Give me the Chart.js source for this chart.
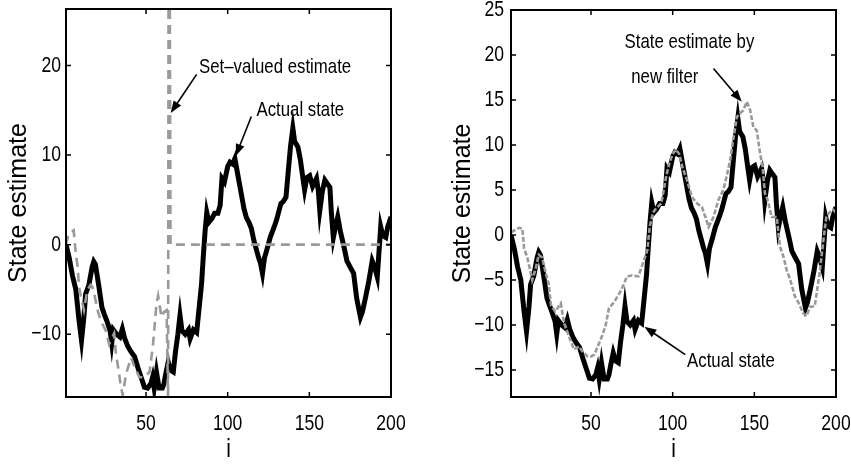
<!DOCTYPE html>
<html><head><meta charset="utf-8">
<script src="https://cdn.jsdelivr.net/npm/chart.js@4"></script>
<style>
html,body{margin:0;padding:0;background:#fff;}
#wrap{position:relative;width:851px;height:464px;overflow:hidden;background:#fff;}
canvas{position:absolute;top:0;}
</style></head><body>
<div id="wrap">
<canvas id="c1" width="430" height="464" style="left:0px"></canvas>
<canvas id="c2" width="421" height="464" style="left:430px"></canvas>
</div>
<script>
// ---- data ----
const actualI = [1,3,5,7,9,10.5,12,13,15,17,
  18,19,21,23,24.5,26,28,29,30,32,
  34,35.5,37,39,41,43,45,47,49,51,
  53,54,55,56.4,58,60,61,62,63.6,65,
  66.7,68,69.5,70.8,72,74,76,77,79,81,
  82,84,85,86.2,87.2,88.5,90.3,92,94,95.4,
  96.5,98,100,101.4,103,104.4,105.5,107,108.5,110,
  111.5,113,114.5,116,117.5,119,120,121.3,122.5,124.4,
  126,128.5,130,132.6,134,135.7,137,138.5,139.9,141,
  143,144.5,146,147.1,148.5,150.2,152,154.4,155.5,156.4,
  158,159.5,161,162.6,163.5,164.7,166,167.4,169,170,
  171.5,173,175,177.1,179,181.3,182.5,184.4,186.5,188.5,
  190,191.6,193.7,195,196.8,198,200];
const actualV = [0,-1.5,-3.5,-5,-8.5,-10.7,-8,-5.5,-4.5,-2.5,
  -1.9,-2.2,-4.5,-7,-7.8,-8.5,-9.6,-11,-9.5,-10,
  -10.3,-9.4,-10.5,-11.4,-12,-12.5,-13.7,-14.8,-15.9,-16,
  -15.5,-14.8,-16,-14.2,-16,-16,-15.5,-14.5,-13.1,-14,
  -14.2,-12,-10,-7.9,-9.6,-10,-9.5,-10.5,-9.5,-9.8,
  -8,-4.4,-1.5,1.6,3.6,2.5,2.9,3.5,3.5,4.4,
  7.4,7,8.7,9.2,9,9.6,8.5,7,5.5,4,
  3,2.5,1.8,0.5,-0.5,-1.5,-2,-3.2,-1.5,-0.3,
  0.8,2,2.8,4.6,4.8,5.3,8,11,13,11.5,
  10.9,9.5,7.5,6.1,7.5,7.7,6.5,7.4,6,3.8,
  6,7.2,6.8,6.4,3.5,0.8,2,3.1,1.5,0.7,
  -0.5,-1.8,-2.5,-3.2,-6,-8.1,-7.5,-5.9,-4,-1.8,
  -2.5,-3.6,2,1,0.8,2,3.1];

const setI = [1,2.6,5.7,7,8,9,10,12,14,16,
  17.1,18.1,20.2,22.3,25.4,27.4,30.5,31.6,32.6,34.7,
  35.7,37.8,40.9,43,46,49.1,52.2,54.3,56.4,57.4,
  59.5,61,62.6,63.5,64,65,200];
const setV = [0,1.2,1.6,-1,-2.3,-4.7,-5.7,-7.3,-5.1,-4.5,
  -4.7,-5.3,-7.2,-8.5,-9.6,-11.1,-9.9,-12.2,-13.3,-15.9,
  -16.8,-14.4,-12.6,-13.7,-14.8,-14.8,-14.2,-11.1,-6.6,-5.7,
  -8.1,-7.5,-7.3,-17.5,60,0,0];

const filtI = [1,3,6,8,9,11,14,16,18,20,
  22,24,25.5,28,30,31.5,33.5,35,37,39.5,
  42.7,45,48,50,52,55,57,59,61,64,
  68,70,72,75,79,82,84.5,86,88,90,
  93,96,98,100,102,104,106,108.8,111.8,115,
  117.9,120,122,125,128,131,133,135.2,137,139.3,
  141,143,145.4,147.4,149.4,151.5,153.5,155,156.5,158,
  160.6,163.7,165.7,168,169.8,172,174.8,177,179.9,182,
  184,187,190,192,194.1,196,198.2,200];
const filtV = [0.3,0.5,0.8,0.7,-1.5,-2.5,-5,-3.8,-2.2,-2.5,
  -4,-5.4,-7.8,-8.5,-8,-7.6,-9.8,-10.5,-11.5,-12.7,
  -12.4,-13,-13.5,-13.5,-13.3,-12,-11.1,-10,-8.1,-7.5,
  -6.3,-5.5,-4.6,-4.5,-4.6,-3,-1.7,1,2.5,3,
  3.5,6.5,8,9,9.5,9,7.5,6.1,4.2,3.5,
  3.1,2,0.9,2,3.9,5,6.5,8.3,10.5,13.1,
  13.5,13.8,14.8,13.9,12,11.6,9.1,7.6,4.6,4,
  2,2,-1.3,-2.5,-3.9,-5,-6.8,-7.5,-8.7,-9,
  -8,-7.9,-4.2,-1,2,2.5,2.8,2.5];

const xTickValues = [50,100,150,200];
const leftYTickValues = [-10,0,10,20];
const rightYTickValues = [-15,-10,-5,0,5,10,15,20,25];
const xTitle = 'i';
const yTitle = 'State estimate';

// ---- condensed look for horizontal text (the reference uses a narrow face) ----
const TEXT_SCALE_X = 0.8;
(function () {
  const orig = CanvasRenderingContext2D.prototype.fillText;
  CanvasRenderingContext2D.prototype.fillText = function (text, x, y, maxWidth) {
    const m = this.getTransform();
    if (Math.abs(m.b) < 1e-6 && Math.abs(m.c) < 1e-6) {
      this.save();
      this.translate(x, y);
      this.scale(TEXT_SCALE_X, 1);
      orig.call(this, text, 0, 0);
      this.restore();
    } else {
      orig.call(this, text, x, y);
    }
  };
})();

// ---- helpers ----
const pts = (xs, ys) => xs.map((x, k) => ({x: x, y: ys[k]}));
const FONT = "'Liberation Sans',Arial,Helvetica,sans-serif";
const minusFmt = v => String(v).replace('-', '\u2212');

const framePlugin = {
  id: 'frame',
  afterDatasetsDraw(chart) {
    const {ctx, chartArea: a, scales: {x, y}} = chart;
    const o = chart.options.plugins.frame;
    ctx.save();
    ctx.strokeStyle = '#000';
    ctx.lineWidth = 2;
    ctx.strokeRect(a.left, a.top, a.right - a.left, a.bottom - a.top);
    ctx.lineWidth = 1.5;
    ctx.beginPath();
    o.xt.forEach(v => {
      const px = x.getPixelForValue(v);
      ctx.moveTo(px, a.bottom); ctx.lineTo(px, a.bottom - 5);
      ctx.moveTo(px, a.top); ctx.lineTo(px, a.top + 5);
    });
    o.yt.forEach(v => {
      const py = y.getPixelForValue(v);
      ctx.moveTo(a.left, py); ctx.lineTo(a.left + 5, py);
      ctx.moveTo(a.right, py); ctx.lineTo(a.right - 5, py);
    });
    ctx.stroke();
    ctx.restore();
  }
};

const notesPlugin = {
  id: 'notes',
  afterDatasetsDraw(chart) {
    const {ctx, scales: {x, y}} = chart;
    const o = chart.options.plugins.notes;
    ctx.save();
    ctx.fillStyle = '#000';
    ctx.strokeStyle = '#000';
    ctx.font = '21px ' + FONT;
    ctx.textBaseline = 'middle';
    ctx.textAlign = 'left';
    o.texts.forEach(t => ctx.fillText(t.text, x.getPixelForValue(t.x), y.getPixelForValue(t.y)));
    o.arrows.forEach(ar => {
      const x0 = x.getPixelForValue(ar.from[0]), y0 = y.getPixelForValue(ar.from[1]);
      const x1 = x.getPixelForValue(ar.to[0]), y1 = y.getPixelForValue(ar.to[1]);
      const ang = Math.atan2(y1 - y0, x1 - x0);
      const L = 12, W = 4.5;
      ctx.lineWidth = 1.6;
      ctx.beginPath();
      ctx.moveTo(x0, y0);
      ctx.lineTo(x1 - Math.cos(ang) * L * 0.8, y1 - Math.sin(ang) * L * 0.8);
      ctx.stroke();
      ctx.beginPath();
      ctx.moveTo(x1, y1);
      ctx.lineTo(x1 - Math.cos(ang) * L + Math.sin(ang) * W, y1 - Math.sin(ang) * L - Math.cos(ang) * W);
      ctx.lineTo(x1 - Math.cos(ang) * L - Math.sin(ang) * W, y1 - Math.sin(ang) * L + Math.cos(ang) * W);
      ctx.closePath();
      ctx.fill();
    });
    ctx.restore();
  }
};

function makeChart(id, grayData, grayDash, yMin, yMax, yTicks, yAxisWidth, yTitlePad, yTickPad, rightPad, topPad, notes) {
  return new Chart(document.getElementById(id), {
    type: 'line',
    data: {
      datasets: [
        {data: grayData, borderColor: '#9a9a9a', borderWidth: 2.6, borderDash: grayDash,
         pointRadius: 0, tension: 0, order: 0},
        {data: pts(actualI, actualV), borderColor: '#000', borderWidth: 5,
         pointRadius: 0, tension: 0, order: 1, borderJoinStyle: 'miter'}
      ]
    },
    options: {
      responsive: false,
      animation: false,
      devicePixelRatio: 1,
      layout: {padding: {left: 0, right: rightPad, top: topPad, bottom: 0}},
      plugins: {
        legend: {display: false}, tooltip: {enabled: false},
        frame: {xt: xTickValues, yt: yTicks},
        notes: notes
      },
      scales: {
        x: {
          type: 'linear', min: 1, max: 200,
          grid: {display: false, drawTicks: false}, border: {display: false},
          afterBuildTicks: s => { s.ticks = xTickValues.map(v => ({value: v})); },
          afterFit: s => { s.height = 67; s.paddingLeft = 0; s.paddingRight = 0; },
          ticks: {color: '#000', font: {family: FONT, size: 22}, padding: 14, maxRotation: 0, autoSkip: false,
                  callback: minusFmt},
          title: {display: true, text: xTitle, color: '#000', font: {family: FONT, size: 26, lineHeight: 1.0},
                  padding: {top: 0, bottom: 1}}
        },
        y: {
          type: 'linear', min: yMin, max: yMax,
          grid: {display: false, drawTicks: false}, border: {display: false},
          afterBuildTicks: s => { s.ticks = yTicks.map(v => ({value: v})); },
          afterFit: s => { s.width = yAxisWidth; s.paddingTop = 0; s.paddingBottom = 0; },
          ticks: {color: '#000', font: {family: FONT, size: 22}, padding: yTickPad, autoSkip: false,
                  callback: minusFmt},
          title: {display: true, text: yTitle, color: '#000', font: {family: FONT, size: 25},
                  padding: {top: yTitlePad, bottom: 0}}
        }
      }
    },
    plugins: [framePlugin, notesPlugin]
  });
}

makeChart('c1', pts(setI, setV), [9, 6], -17, 26.3, leftYTickValues, 66, 4.5, 5, 39, 9, {
  texts: [{text: 'Set\u2013valued estimate', x: 82.4, y: 19.75}, {text: 'Actual state', x: 117.6, y: 15.0}],
  arrows: [{from: [81, 19.0], to: [65.1, 14.7]}, {from: [114.5, 14.3], to: [104.9, 9.9]}]
});

makeChart('c2', pts(filtI, filtV), [5, 2], -18, 25, rightYTickValues, 81, 18, 7, 15, 10, {
  texts: [{text: 'State estimate by', x: 70.5, y: 21.4}, {text: 'new filter', x: 74.6, y: 17.5},
          {text: 'Actual state', x: 108.8, y: -14.0}],
  arrows: [{from: [125, 18.5], to: [142.3, 14.8]}, {from: [107.7, -13.3], to: [82.7, -10.2]}]
});
</script>
</body></html>
